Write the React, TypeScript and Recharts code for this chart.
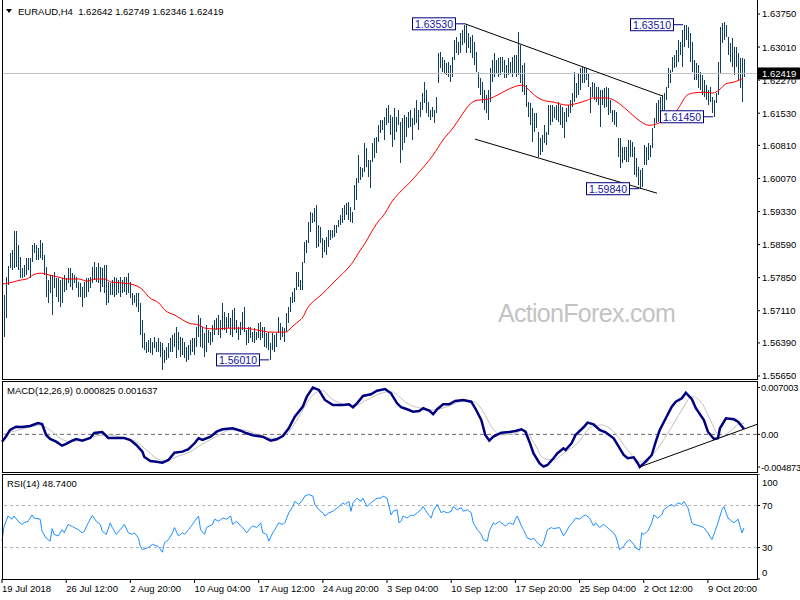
import React from "react";
import {
  ComposedChart,
  Bar,
  Line,
  XAxis,
  YAxis,
  ReferenceLine,
  ReferenceDot,
} from "recharts";

const FONT = "'Liberation Sans', Arial, sans-serif";
const BAR_COLOR = "#0e3f5e";
const X_PAD = 13;

// H4 bar highs / lows, one per bar (index = bar number)
const highs = [
  1.5746, 1.5786, 1.5811, 1.584, 1.5847, 1.5889, 1.5889, 1.5858, 1.5831, 1.5806,
  1.5813, 1.5829, 1.5829, 1.5829, 1.5858, 1.5862, 1.5858, 1.5851, 1.5869, 1.5862,
  1.5835, 1.5809, 1.5779, 1.5791, 1.5791, 1.5797, 1.5784, 1.5784, 1.5779, 1.5784,
  1.5791, 1.5784, 1.5806, 1.5806, 1.5795, 1.5791, 1.5786, 1.5775, 1.5773, 1.5764,
  1.5775, 1.5784, 1.5784, 1.5786, 1.5809, 1.582, 1.5809, 1.5817, 1.5809, 1.5806,
  1.5813, 1.5813, 1.5775, 1.5773, 1.5779, 1.5786, 1.5784, 1.5779, 1.5786, 1.5779,
  1.5786, 1.5786, 1.5795, 1.5775, 1.575, 1.5746, 1.575, 1.575, 1.5728, 1.569,
  1.5661, 1.5641, 1.5645, 1.565, 1.5641, 1.5652, 1.5641, 1.565, 1.5641, 1.5638,
  1.5623, 1.5629, 1.5638, 1.565, 1.5656, 1.5661, 1.5674, 1.5663, 1.5652, 1.565,
  1.5641, 1.5629, 1.5634, 1.5645, 1.565, 1.565, 1.5674, 1.5701, 1.5694, 1.5674,
  1.5661, 1.5679, 1.5668, 1.5663, 1.5679, 1.569, 1.5694, 1.5701, 1.569, 1.5728,
  1.5708, 1.5697, 1.5706, 1.5694, 1.5712, 1.5717, 1.569, 1.5674, 1.5685, 1.5708,
  1.5719, 1.5668, 1.5674, 1.5674, 1.5663, 1.5672, 1.5663, 1.5683, 1.5685, 1.5674,
  1.5674, 1.5661, 1.5663, 1.5638, 1.5661, 1.5656, 1.5661, 1.5697, 1.5683, 1.5674,
  1.5672, 1.5706, 1.5719, 1.5741, 1.5753, 1.5762, 1.5797, 1.5797, 1.5779, 1.582,
  1.5864, 1.5869, 1.5909, 1.5932, 1.5929, 1.5941, 1.5947, 1.5902, 1.5898, 1.5873,
  1.5869, 1.5876, 1.5891, 1.5891, 1.5891, 1.5902, 1.5902, 1.5914, 1.5925, 1.5941,
  1.5947, 1.5952, 1.5954, 1.5943, 1.5932, 1.5992, 1.6008, 1.6059, 1.6032, 1.603,
  1.6086, 1.6075, 1.6048, 1.6048, 1.6086, 1.6097, 1.6099, 1.6126, 1.6137, 1.6137,
  1.6144, 1.6164, 1.6171, 1.6149, 1.6144, 1.6164, 1.6144, 1.616, 1.6133, 1.6142,
  1.6149, 1.6144, 1.6155, 1.616, 1.6142, 1.6164, 1.6182, 1.616, 1.6178, 1.6198,
  1.6222, 1.6205, 1.6178, 1.616, 1.6167, 1.616, 1.6189, 1.6288, 1.629, 1.6279,
  1.6272, 1.6265, 1.6267, 1.6261, 1.6279, 1.6317, 1.6323, 1.6312, 1.6332, 1.6339,
  1.635, 1.6353, 1.6332, 1.6323, 1.6328, 1.6312, 1.629, 1.6245, 1.6231, 1.6222,
  1.6205, 1.6193, 1.6205, 1.6254, 1.6272, 1.6287, 1.6272, 1.6276, 1.6279, 1.6279,
  1.6272, 1.6261, 1.6276, 1.6267, 1.6279, 1.6283, 1.6283, 1.6335, 1.6305, 1.6261,
  1.6265, 1.6216, 1.6178, 1.6175, 1.6164, 1.6153, 1.6153, 1.6111, 1.6097, 1.6104,
  1.6126, 1.6111, 1.6171, 1.6171, 1.6171, 1.6167, 1.6171, 1.6178, 1.6171, 1.6167,
  1.6155, 1.6164, 1.6171, 1.6182, 1.6198, 1.6245, 1.622, 1.6243, 1.6254, 1.6256,
  1.6256, 1.6254, 1.6243, 1.6211, 1.6222, 1.622, 1.6211, 1.6211, 1.6205, 1.6205,
  1.6209, 1.6211, 1.6209, 1.6182, 1.616, 1.616, 1.6155, 1.6097, 1.6097, 1.6077,
  1.6077, 1.6077, 1.6093, 1.6093, 1.6088, 1.6077, 1.6052, 1.6032, 1.6026, 1.603,
  1.6081, 1.6077, 1.6086, 1.6081, 1.612, 1.6142, 1.6175, 1.6182, 1.6189, 1.6193,
  1.6198, 1.6211, 1.6254, 1.6249, 1.6279, 1.6283, 1.6294, 1.6317, 1.6312, 1.6339,
  1.6351, 1.635, 1.6346, 1.6332, 1.6312, 1.6272, 1.6265, 1.6261, 1.6245, 1.6238,
  1.6227, 1.6216, 1.6205, 1.6211, 1.6189, 1.6182, 1.6198, 1.6267, 1.6346, 1.6355,
  1.6357, 1.635, 1.6323, 1.631, 1.6321, 1.6301, 1.6301, 1.6287, 1.6276, 1.6276,
  1.62749,
];

const lows = [
  1.5652, 1.5694, 1.5768, 1.5806, 1.5802, 1.5806, 1.5809, 1.5802, 1.5784, 1.5784,
  1.5786, 1.5791, 1.5802, 1.5784, 1.582, 1.584, 1.5824, 1.5824, 1.5829, 1.5824,
  1.5791, 1.5741, 1.5728, 1.575, 1.5701, 1.5762, 1.5741, 1.573, 1.5719, 1.5728,
  1.5753, 1.5757, 1.5773, 1.5764, 1.5757, 1.5773, 1.5762, 1.5741, 1.5741, 1.5719,
  1.5739, 1.5741, 1.5753, 1.5762, 1.5773, 1.5779, 1.5775, 1.5773, 1.5753, 1.5764,
  1.575, 1.5723, 1.5728, 1.5746, 1.5746, 1.5741, 1.5746, 1.575, 1.5741, 1.575,
  1.5753, 1.5746, 1.575, 1.5739, 1.5723, 1.5728, 1.5719, 1.5708, 1.5656, 1.5627,
  1.5623, 1.5616, 1.5618, 1.5616, 1.5612, 1.5627, 1.5618, 1.5618, 1.5607, 1.5578,
  1.5594, 1.56, 1.5605, 1.5618, 1.5618, 1.5629, 1.5605, 1.5623, 1.5607, 1.5612,
  1.5605, 1.5596, 1.56, 1.5612, 1.5618, 1.5612, 1.5629, 1.5652, 1.5629, 1.5627,
  1.5607, 1.5618, 1.5638, 1.5634, 1.5641, 1.5656, 1.5668, 1.5656, 1.565, 1.5668,
  1.5668, 1.5661, 1.5672, 1.5656, 1.5652, 1.5668, 1.5661, 1.5645, 1.5656, 1.5668,
  1.5663, 1.5634, 1.5638, 1.565, 1.5641, 1.5638, 1.5645, 1.565, 1.5645, 1.565,
  1.5629, 1.5627, 1.5623, 1.5601, 1.5623, 1.5618, 1.5629, 1.5661, 1.5645, 1.5652,
  1.5641, 1.5663, 1.5683, 1.5708, 1.5728, 1.573, 1.5757, 1.5764, 1.5757, 1.5757,
  1.5817, 1.584, 1.5862, 1.5887, 1.5907, 1.5909, 1.5851, 1.5853, 1.5862, 1.5829,
  1.5842, 1.5835, 1.5853, 1.5869, 1.5873, 1.5876, 1.5885, 1.5898, 1.5902, 1.5907,
  1.5914, 1.5925, 1.5914, 1.5909, 1.5907, 1.5936, 1.5958, 1.5996, 1.6003, 1.601,
  1.6021, 1.6032, 1.601, 1.5985, 1.6043, 1.6052, 1.6064, 1.6088, 1.6108, 1.6115,
  1.6093, 1.6126, 1.6131, 1.6104, 1.6077, 1.6093, 1.6111, 1.6126, 1.6041, 1.607,
  1.6086, 1.6099, 1.612, 1.6122, 1.6093, 1.6126, 1.6131, 1.6115, 1.6144, 1.616,
  1.6175, 1.6153, 1.6144, 1.6137, 1.6144, 1.6131, 1.6153, 1.622, 1.6254, 1.6245,
  1.6243, 1.6238, 1.6234, 1.6222, 1.6234, 1.6272, 1.6287, 1.6283, 1.6287, 1.6305,
  1.631, 1.6287, 1.6299, 1.6287, 1.6276, 1.6261, 1.6245, 1.6209, 1.6193, 1.6175,
  1.616, 1.6153, 1.6137, 1.6178, 1.6222, 1.6234, 1.6243, 1.6234, 1.6238, 1.6245,
  1.6231, 1.6231, 1.6238, 1.6243, 1.6234, 1.6243, 1.6234, 1.6238, 1.622, 1.62,
  1.6193, 1.6167, 1.6144, 1.6126, 1.6088, 1.6111, 1.612, 1.6055, 1.6059, 1.6066,
  1.6086, 1.6081, 1.6104, 1.6126, 1.6133, 1.6142, 1.6137, 1.6133, 1.6126, 1.612,
  1.6097, 1.6133, 1.6144, 1.6153, 1.6167, 1.6178, 1.6187, 1.6193, 1.6205, 1.622,
  1.622, 1.6227, 1.6211, 1.6153, 1.6189, 1.6182, 1.6178, 1.6171, 1.6122, 1.6171,
  1.6164, 1.6167, 1.6149, 1.6153, 1.6133, 1.6126, 1.6122, 1.6055, 1.603, 1.6041,
  1.6048, 1.6043, 1.6043, 1.6055, 1.6055, 1.6014, 1.601, 1.5992, 1.5984, 1.5988,
  1.6037, 1.6037, 1.6048, 1.6055, 1.6075, 1.612, 1.6131, 1.6133, 1.6149, 1.6155,
  1.616, 1.6182, 1.6209, 1.622, 1.6245, 1.6254, 1.6256, 1.6267, 1.6283, 1.6256,
  1.6301, 1.6317, 1.6299, 1.6267, 1.6245, 1.6227, 1.6227, 1.6209, 1.6205, 1.6193,
  1.6189, 1.6182, 1.6171, 1.6178, 1.6153, 1.6145, 1.6175, 1.6193, 1.6243, 1.631,
  1.6317, 1.6323, 1.6283, 1.6267, 1.6256, 1.6238, 1.6256, 1.6227, 1.6209, 1.6178,
  1.62346,
];

const lastOpen = 1.62642;
const lastHigh = 1.62749;
const lastLow = 1.62346;
const lastClose = 1.62419;

// red moving average, [bar, value]
const maPoints: [number, number][] = [
  [0, 1.5771], [5, 1.5775], [8, 1.5779], [12, 1.5782], [15, 1.5791], [19, 1.5795],
  [23, 1.5791], [28, 1.5786], [32, 1.5782], [38, 1.5782], [42, 1.5777], [46, 1.5782],
  [51, 1.5782], [54, 1.5775], [60, 1.5773], [66, 1.5768], [70, 1.5757], [73, 1.5741],
  [78, 1.5728], [81, 1.5712], [86, 1.5701], [90, 1.569], [93, 1.5683], [98, 1.5679],
  [101, 1.5672], [106, 1.567], [112, 1.5672], [120, 1.5672], [127, 1.5668], [134, 1.5663],
  [141, 1.5663], [143, 1.5668], [145, 1.5677], [148, 1.5688], [150, 1.5697], [152, 1.5715],
  [156, 1.5735], [159, 1.5746], [162, 1.5759], [165, 1.5773], [168, 1.5786], [172, 1.5804],
  [175, 1.582], [178, 1.5842], [181, 1.5862], [184, 1.5885], [187, 1.5907], [191, 1.5929],
  [194, 1.5952], [198, 1.5974], [203, 1.5996], [208, 1.6021], [215, 1.6059], [220, 1.6093],
  [225, 1.612], [230, 1.6153], [233, 1.6171], [237, 1.6182], [242, 1.6184], [247, 1.6193],
  [252, 1.6205], [257, 1.6214], [260, 1.6216], [262, 1.6209], [267, 1.6189], [270, 1.6182],
  [275, 1.6178], [282, 1.6171], [287, 1.6175], [292, 1.6182], [295, 1.6187], [302, 1.6187],
  [307, 1.6178], [312, 1.616], [318, 1.6137], [323, 1.6126], [328, 1.6131], [332, 1.6142],
  [337, 1.616], [342, 1.6193], [345, 1.6198], [350, 1.62], [355, 1.6198], [358, 1.6205],
  [362, 1.622], [365, 1.6222], [368, 1.6227], [370, 1.6231],
];

const macdNow = 0.000825;
const signalNow = 0.001637;
const rsiNow = 48.74;

const macdPoints: [number, number][] = [
  [0, -0.00109], [2, -0.00034], [4, 0.00066], [7, 0.00115], [10, 0.0011], [14, 0.00125],
  [18, 0.0017], [20, 0.00155], [22, -0.00009], [24, -0.00069], [27, -0.00109], [30, -0.00169],
  [32, -0.00143], [35, -0.00094], [37, -0.00069], [40, -0.00094], [44, -0.00054], [46, 0.00021],
  [50, 0.00036], [53, -0.00054], [56, -0.00054], [61, -0.00054], [64, -0.00084], [67, -0.00158],
  [70, -0.00258], [71, -0.00337], [74, -0.00397], [77, -0.00408], [80, -0.00423], [83, -0.00382],
  [86, -0.00273], [90, -0.00258], [93, -0.00222], [96, -0.00133], [98, -0.00058], [100, -0.00084],
  [104, -0.00034], [107, 0.0004], [110, 0.00076], [115, 0.00091], [119, 0.00055], [122, 0.00016],
  [125, -0.00013], [130, -0.00034], [134, -0.00094], [137, -0.00073], [140, -0.00024], [143, 0.00091],
  [146, 0.00264], [150, 0.00414], [152, 0.00563], [155, 0.007], [158, 0.00663], [161, 0.00514],
  [165, 0.00439], [170, 0.00439], [173, 0.00449], [175, 0.00405], [177, 0.00464], [180, 0.00573],
  [184, 0.00599], [187, 0.00652], [191, 0.00678], [194, 0.00614], [197, 0.00464], [199, 0.00405],
  [202, 0.00375], [205, 0.00339], [208, 0.00349], [210, 0.0039], [213, 0.00354], [215, 0.003],
  [217, 0.00375], [220, 0.00449], [223, 0.00449], [226, 0.00499], [230, 0.00514], [234, 0.00488],
  [236, 0.0039], [239, 0.00215], [241, -0.00009], [243, -0.00094], [245, -0.00034], [249, 0.00025],
  [253, 0.00036], [256, 0.00051], [259, 0.00076], [261, 0.0004], [263, -0.00109], [265, -0.00282],
  [268, -0.00431], [270, -0.00482], [272, -0.00457], [275, -0.00357], [277, -0.00282], [280, -0.00208],
  [281, -0.00233], [284, -0.00133], [286, -0.00009], [290, 0.00106], [292, 0.00175], [295, 0.00151],
  [298, 0.00066], [301, 0.00031], [305, -0.00058], [307, -0.00158], [310, -0.00308], [312, -0.00357],
  [315, -0.00342], [317, -0.00431], [318, -0.00487], [321, -0.00408], [324, -0.00308], [326, -0.00109],
  [328, 0.00066], [331, 0.0024], [334, 0.00414], [336, 0.00488], [339, 0.00539], [341, 0.00623],
  [344, 0.00524], [346, 0.0039], [350, 0.00215], [352, 0.0004], [355, -0.00069], [357, -0.00058],
  [358, 0.00091], [361, 0.0024], [365, 0.00225], [367, 0.0019], [370, macdNow],
];

const signalPoints: [number, number][] = [
  [0, -0.00009], [5, 0.0004], [12, 0.00091], [19, 0.0014], [24, 0.00066], [29, -0.00058],
  [34, -0.00109], [40, -0.00084], [47, -0.00024], [54, -0.00009], [60, -0.00049], [67, -0.00109],
  [72, -0.00233], [77, -0.00357], [82, -0.00393], [87, -0.00333], [94, -0.00258], [100, -0.00143],
  [107, -0.00034], [114, 0.00066], [120, 0.00066], [127, 0.00001], [134, -0.00058], [140, -0.00034],
  [145, 0.00115], [150, 0.00364], [155, 0.00588], [160, 0.00652], [164, 0.00539], [169, 0.00464],
  [175, 0.00424], [182, 0.00514], [189, 0.00614], [194, 0.00638], [199, 0.00539], [202, 0.00464],
  [209, 0.0039], [215, 0.00364], [222, 0.00414], [229, 0.00488], [235, 0.00488], [240, 0.00339],
  [244, 0.00115], [249, -0.00009], [255, 0.00006], [260, 0.00066], [265, -0.00109], [270, -0.00357],
  [275, -0.00382], [280, -0.00282], [287, -0.00133], [294, 0.00115], [299, 0.0014], [305, 0.0004],
  [312, -0.00233], [318, -0.00408], [325, -0.00282], [332, 0.00016], [339, 0.00364], [344, 0.00563],
  [349, 0.00464], [354, 0.00166], [358, -0.00034], [364, 0.00066], [368, 0.00166], [370, signalNow],
];

const rsiPoints: [number, number][] = [
  [0, 36], [1, 50], [3, 60], [5, 57], [6, 60], [8, 55], [10, 52], [11, 53.5], [13, 55], [15, 61],
  [16, 58], [19, 57], [20, 45.5], [22, 39], [24, 36], [25, 48], [26, 42.5], [28, 41], [30, 47],
  [31, 44], [33, 52], [35, 50], [38, 47], [40, 44], [41, 45.5], [43, 53.5], [45, 60.5], [47, 55],
  [49, 52], [50, 45.5], [52, 42.5], [54, 53.5], [55, 49], [57, 42.5], [59, 47], [61, 52], [63, 44],
  [65, 42.5], [66, 44], [68, 39], [69, 31], [70, 28], [73, 30], [75, 33], [78, 31], [80, 25.5],
  [81, 34.5], [83, 37.5], [85, 44], [86, 49], [88, 41], [90, 44], [91, 42.5], [93, 47], [95, 52],
  [96, 55], [98, 60], [99, 47], [101, 42.5], [102, 49], [105, 52], [106, 57], [108, 55], [110, 58],
  [112, 57], [114, 60], [115, 52], [117, 55], [119, 50.5], [120, 49], [122, 44], [124, 49],
  [125, 50.5], [127, 49], [129, 53.5], [130, 44], [132, 42.5], [133, 36], [135, 44], [136, 47],
  [138, 53.5], [140, 52], [141, 53.5], [143, 63], [145, 69], [146, 74], [148, 71], [150, 75.5],
  [151, 79], [153, 80.5], [155, 79], [156, 71], [158, 66], [160, 63], [161, 60], [163, 63],
  [165, 64.5], [166, 66], [168, 69], [170, 72.5], [171, 71], [173, 74], [174, 64.5], [175, 72.5],
  [177, 77], [179, 74], [180, 77], [182, 69], [184, 72.5], [185, 74], [187, 77], [189, 77],
  [190, 79], [192, 77], [194, 61], [195, 64.5], [197, 66], [198, 53.5], [199, 55], [200, 60],
  [202, 58], [204, 61], [205, 60], [207, 63], [209, 66], [210, 69], [212, 63], [214, 58],
  [215, 64.5], [217, 71], [219, 63], [220, 64.5], [222, 63], [224, 64.5], [225, 69], [227, 66],
  [229, 68], [230, 64.5], [232, 66], [234, 63], [235, 53.5], [237, 47], [239, 42.5], [240, 37.5],
  [242, 36], [243, 45.5], [245, 53.5], [246, 52], [248, 55], [250, 52], [251, 50.5], [253, 53.5],
  [255, 52], [256, 57], [257, 60], [259, 50.5], [260, 47], [262, 39], [264, 37.5], [265, 39],
  [267, 34.5], [269, 31], [270, 34.5], [272, 47], [274, 49], [275, 48], [278, 49], [280, 41],
  [281, 44], [283, 50.5], [285, 55], [286, 58], [288, 57], [290, 60], [291, 61], [293, 58],
  [295, 50.5], [296, 53.5], [298, 49], [300, 52], [301, 50.5], [303, 47], [305, 44], [306, 41],
  [308, 28], [310, 31], [311, 34.5], [313, 37.5], [315, 33], [316, 29.5], [318, 27.5], [319, 44],
  [320, 42.5], [322, 45.5], [324, 53.5], [325, 61], [327, 58], [329, 61], [330, 66], [332, 69],
  [334, 71], [335, 69], [337, 72.5], [339, 71], [340, 74], [342, 68], [344, 53.5], [345, 52],
  [348, 50.5], [350, 49], [352, 44], [354, 37.5], [355, 42.5], [357, 53.5], [359, 66], [360, 69],
  [362, 58], [364, 55], [365, 53.5], [367, 57], [369, 44], [370, rsiNow],
];

// swing labels
const swingBars = [231, 340, 355, 318, 133];
const swingPrices = [1.6353, 1.6351, 1.6145, 1.5984, 1.5601];

const priceTicks = [
  1.6375, 1.6301, 1.6227, 1.6153, 1.6081, 1.6007, 1.5933, 1.5859, 1.5785, 1.5711, 1.5639,
  1.5565,
];
const macdTicks = [0.007003, 0, -0.004873];
const rsiTicks = [100, 70, 30, 0];

const timeTicks = [0, 32, 64, 96, 128, 160, 192, 224, 256, 288, 320, 352];
const timeLabels = [
  "19 Jul 2018", "26 Jul 12:00", "2 Aug 20:00", "10 Aug 04:00", "17 Aug 12:00",
  "24 Aug 20:00", "3 Sep 04:00", "10 Sep 12:00", "17 Sep 20:00", "25 Sep 04:00",
  "2 Oct 12:00", "9 Oct 20:00",
];

const maMap = new Map(maPoints);
const macdMap = new Map(macdPoints);
const signalMap = new Map(signalPoints);
const rsiMap = new Map(rsiPoints);

const rows = highs.map((h, k) => ({
  k,
  range: [lows[k], h],
  ma: maMap.get(k) ?? null,
  macd: macdMap.get(k) ?? null,
  signal: signalMap.get(k) ?? null,
  rsi: rsiMap.get(k) ?? null,
}));

const labelStyle = { fontSize: 9.5, fontFamily: FONT, fill: "#000" };

const HiLoBar = (p: any) => (
  <rect
    x={p.x + p.width / 2}
    y={p.y}
    width={1}
    height={Math.max(1, p.height)}
    fill={BAR_COLOR}
    shapeRendering="crispEdges"
  />
);

const PriceTick = ({ x, y, payload }: any) => (
  <text x={x} y={y} dy={3.5} textAnchor="start" {...labelStyle}>
    {payload.value.toFixed(5)}
  </text>
);

const MacdTick = ({ x, y, payload }: any) => (
  <text
    x={x - 1}
    y={y}
    dy={3.5}
    textAnchor="start"
    {...labelStyle}
    fontSize={9.2}
    letterSpacing={-0.15}
  >
    {payload.value === 0 ? "0.00" : payload.value.toFixed(6)}
  </text>
);

const RsiTick = ({ x, y, payload }: any) => {
  const v = payload.value;
  const shift = v === 100 ? 8 : v === 0 ? -7 : 0;
  return (
    <text x={x} y={y + shift} dy={3.5} textAnchor="start" {...labelStyle}>
      {v}
    </text>
  );
};

const TimeTick = ({ x, y, payload }: any) => (
  <text x={x} y={y} dy={7} textAnchor="start" {...labelStyle}>
    {timeLabels[timeTicks.indexOf(payload.value)]}
  </text>
);

const PriceTag = ({ viewBox }: any) => (
  <g>
    <rect x={viewBox.x + viewBox.width + 1} y={viewBox.y - 6} width={43} height={12} fill="#000" />
    <text
      x={viewBox.x + viewBox.width + 5}
      y={viewBox.y}
      dy={3.5}
      fontSize={9.5}
      fontFamily={FONT}
      fill="#fff"
    >
      {lastClose.toFixed(5)}
    </text>
  </g>
);

const SwingTag = ({ cx, cy, text }: any) => (
  <g>
    <line x1={cx - 9} y1={cy} x2={cx} y2={cy} stroke="#000080" />
    <rect x={cx - 52.5} y={cy - 6} width={43} height={12} fill="#fff" stroke="#000080" />
    <text
      x={cx - 31}
      y={cy}
      dy={3.8}
      textAnchor="middle"
      fontSize={10.5}
      fontFamily={FONT}
      fill="#1414a0"
    >
      {text}
    </text>
  </g>
);

// trend line that keeps going to the right edge of the plot
const ExtendedLine = (p: any) => {
  const dx = p.x2 - p.x1;
  const t = (X_PAD + 1) / dx;
  return (
    <line
      x1={p.x1}
      y1={p.y1}
      x2={p.x2 + dx * t}
      y2={p.y2 + (p.y2 - p.y1) * t}
      stroke="#000"
      strokeWidth={1}
    />
  );
};

function PricePanel() {
  return (
    <ComposedChart width={800} height={381} data={rows} margin={{ top: 0, right: 0, bottom: 2, left: 2 }}>
      <XAxis dataKey="k" hide padding={{ left: 0, right: X_PAD }} />
      <YAxis
        orientation="right"
        width={43}
        domain={[1.55582, 1.64063]}
        allowDataOverflow
        ticks={priceTicks}
        interval={0}
        tick={<PriceTick />}
        tickSize={3}
        tickLine={{ stroke: "#000" }}
        axisLine={false}
      />
      <ReferenceLine y={lastClose} stroke="#c0c0c0" label={PriceTag} />
      <Bar dataKey="range" barSize={1} fill={BAR_COLOR} shape={HiLoBar} isAnimationActive={false} />
      <Line
        dataKey="ma"
        stroke="#ff0000"
        strokeWidth={1}
        dot={false}
        connectNulls
        type="monotone"
        isAnimationActive={false}
      />
      <ReferenceLine
        segment={[{ x: 231, y: 1.6353 }, { x: 330, y: 1.6191 }]}
        stroke="#000"
        strokeWidth={1}
      />
      <ReferenceLine
        segment={[{ x: 236, y: 1.6095 }, { x: 327, y: 1.5974 }]}
        stroke="#000"
        strokeWidth={1}
      />
      {swingBars.map((k, i) => (
        <ReferenceDot
          key={k}
          x={k}
          y={swingPrices[i]}
          r={0}
          shape={(p: any) => <SwingTag {...p} text={swingPrices[i].toFixed(5)} />}
        />
      ))}
    </ComposedChart>
  );
}

function MacdPanel() {
  return (
    <ComposedChart width={800} height={89} data={rows} margin={{ top: 0, right: 0, bottom: 0, left: 2 }}>
      <XAxis dataKey="k" hide padding={{ left: 0, right: X_PAD }} />
      <YAxis
        orientation="right"
        width={43}
        domain={[-0.00547, 0.00782]}
        allowDataOverflow
        ticks={macdTicks}
        interval={0}
        tick={<MacdTick />}
        tickSize={3}
        tickLine={{ stroke: "#000" }}
        axisLine={false}
      />
      <ReferenceLine y={0} stroke="#6a6a6a" strokeDasharray="4 3" />
      <Line
        dataKey="signal"
        stroke="#c0c0c0"
        strokeWidth={1}
        dot={false}
        connectNulls
        type="monotone"
        isAnimationActive={false}
      />
      <Line
        dataKey="macd"
        stroke="#000080"
        strokeWidth={2.5}
        dot={false}
        connectNulls
        type="linear"
        isAnimationActive={false}
      />
      <ReferenceLine
        segment={[{ x: 318, y: -0.00487 }, { x: 370, y: 0.00079 }]}
        shape={ExtendedLine}
      />
    </ComposedChart>
  );
}

function RsiPanel() {
  return (
    <ComposedChart width={800} height={126} data={rows} margin={{ top: 0, right: 0, bottom: 0, left: 2 }}>
      <XAxis
        dataKey="k"
        height={21}
        padding={{ left: 0, right: X_PAD }}
        ticks={timeTicks}
        interval={0}
        tick={<TimeTick />}
        tickSize={4}
        tickLine={{ stroke: "#000" }}
        axisLine={false}
      />
      <YAxis
        orientation="right"
        width={43}
        domain={[0, 100]}
        allowDataOverflow
        ticks={rsiTicks}
        interval={0}
        tick={<RsiTick />}
        tickSize={3}
        tickLine={{ stroke: "#000" }}
        axisLine={false}
      />
      <ReferenceLine y={70} stroke="#b4b4b4" strokeDasharray="3 3" />
      <ReferenceLine y={30} stroke="#b4b4b4" strokeDasharray="3 3" />
      <Line
        dataKey="rsi"
        stroke="#1e90ff"
        strokeWidth={1}
        dot={false}
        connectNulls
        type="linear"
        isAnimationActive={false}
      />
    </ComposedChart>
  );
}

export default function App() {
  const header = `EURAUD,H4  ${lastOpen.toFixed(5)} ${lastHigh.toFixed(5)} ${lastLow.toFixed(5)} ${lastClose.toFixed(5)}`;
  return (
    <div style={{ position: "relative", width: 800, height: 600, background: "#fff", overflow: "hidden" }}>
      <style>{`body{margin:0}`}</style>
      <svg width={800} height={600} style={{ position: "absolute", left: 0, top: 0 }}>
        <text x={498} y={322} fontSize={25} letterSpacing={-0.7} fontFamily={FONT} fill="#c3c3c3">
          ActionForex.com
        </text>
      </svg>
      <div style={{ position: "absolute", left: 0, top: 0 }}>
        <PricePanel />
      </div>
      <div style={{ position: "absolute", left: 0, top: 382 }}>
        <MacdPanel />
      </div>
      <div style={{ position: "absolute", left: 0, top: 474 }}>
        <RsiPanel />
      </div>
      <svg width={800} height={600} style={{ position: "absolute", left: 0, top: 0, pointerEvents: "none" }}>
        <g fill="none" stroke="#000" strokeWidth={1} shapeRendering="crispEdges">
          <rect x={2.5} y={-0.5} width={755} height={380} />
          <rect x={2.5} y={381.5} width={755} height={91} />
          <rect x={2.5} y={474.5} width={755} height={105} />
        </g>
        <polygon points="6,9 12,9 9,13" fill="#000" />
        <text x={18} y={15} {...labelStyle} style={{ whiteSpace: "pre" }}>
          {header}
        </text>
        <text x={7} y={394} {...labelStyle}>
          {`MACD(12,26,9) ${macdNow.toFixed(6)} ${signalNow.toFixed(6)}`}
        </text>
        <text x={7} y={487} {...labelStyle}>
          {`RSI(14) ${rsiNow.toFixed(4)}`}
        </text>
      </svg>
    </div>
  );
}
